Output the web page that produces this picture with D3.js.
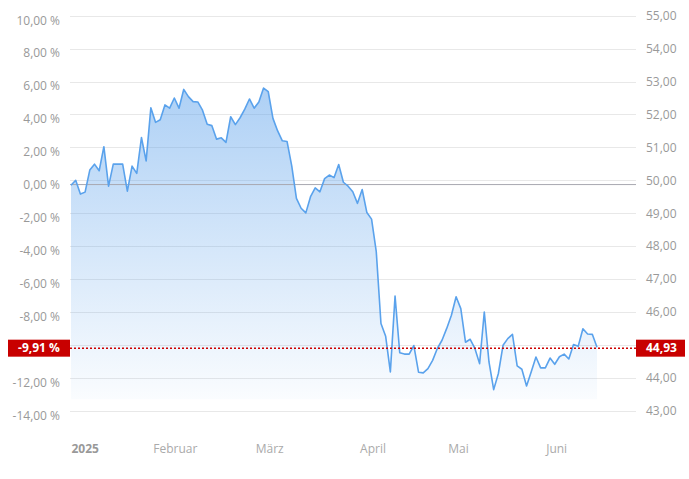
<!DOCTYPE html>
<html>
<head>
<meta charset="utf-8">
<script src="https://cdn.jsdelivr.net/npm/d3@7"></script>
<style>
  html, body { margin: 0; padding: 0; background: #fff; }
  svg { display: block; font-family: "Open Sans", "DejaVu Sans", sans-serif; }
</style>
</head>
<body>
<svg id="chart" width="689" height="479"></svg>
<script>
// ---- data ----
const prices = [
  49.85, 50.00, 49.58, 49.64, 50.31, 50.49, 50.29, 51.02, 49.82, 50.49,
  50.49, 50.49, 49.67, 50.43, 50.21, 51.30, 50.59, 52.20, 51.76, 51.84,
  52.29, 52.19, 52.50, 52.19, 52.76, 52.54, 52.39, 52.38, 52.13, 51.70,
  51.66, 51.25, 51.29, 51.15, 51.93, 51.69, 51.90, 52.16, 52.47, 52.19,
  52.38, 52.80, 52.69, 51.88, 51.50, 51.20, 51.18, 50.44, 49.45, 49.15,
  49.01, 49.50, 49.77, 49.65, 50.05, 50.16, 50.08, 50.48, 49.94, 49.82,
  49.65, 49.30, 49.72, 49.02, 48.82, 47.83, 45.65, 45.26, 44.18, 46.48,
  44.76, 44.72, 44.72, 44.98, 44.17, 44.15, 44.28, 44.53, 44.89, 45.14,
  45.50, 45.90, 46.46, 46.10, 45.08, 45.17, 44.89, 44.43, 46.00, 44.48,
  43.64, 44.13, 44.99, 45.19, 45.32, 44.36, 44.26, 43.75, 44.18, 44.63,
  44.30, 44.30, 44.60, 44.41, 44.64, 44.72, 44.57, 45.01, 44.96, 45.49,
  45.33, 45.32, 44.93
];
const basePrice = 49.87;
const fillBase = 43.35;
const priceTicks = [43, 44, 45, 46, 47, 48, 49, 50, 51, 52, 53, 54, 55];
const pctTicks = [-14, -12, -10, -8, -6, -4, -2, 0, 2, 4, 6, 8, 10];
const monthLabels = ["2025", "Februar", "März", "April", "Mai", "Juni"];
const monthPos = [0, 22.1, 42.2, 64.2, 82.4, 103.3];

// ---- layout ----
const plotLeft = 70, plotRight = 636, plotTop = 15.7, plotBottom = 410.7;
const svg = d3.select("#chart");

const locale = d3.formatLocale({decimal: ",", thousands: ".", grouping: [3], currency: ["", " €"], minus: "-"});
const f2 = locale.format(".2f");

const x = d3.scaleLinear().domain([0, prices.length - 1]).range([71, 597]);
const yP = d3.scaleLinear().domain([43, 55]).range([plotBottom, plotTop]);
const yPct = d3.scaleLinear().domain([-14, 10]).range([plotBottom, plotTop]);

const last = prices[prices.length - 1];
const pct = (last / basePrice - 1) * 100;
const ly = yP(last);

// gradient
const defs = svg.append("defs");
const grad = defs.append("linearGradient").attr("id", "areaGrad")
  .attr("gradientUnits", "userSpaceOnUse")
  .attr("x1", 0).attr("x2", 0).attr("y1", plotTop).attr("y2", yP(fillBase));
grad.append("stop").attr("offset", 0).attr("stop-color", "rgb(90,160,235)").attr("stop-opacity", 0.6);
grad.append("stop").attr("offset", 1).attr("stop-color", "rgb(90,160,235)").attr("stop-opacity", 0.03);

// gridlines
svg.append("g").selectAll("line").data(priceTicks).join("line")
  .attr("x1", plotLeft).attr("x2", plotRight)
  .attr("y1", d => Math.round(yP(d)) + 0.5).attr("y2", d => Math.round(yP(d)) + 0.5)
  .attr("stroke", "#e8e8e8").attr("stroke-width", 1);

// area
const area = d3.area().x((d, i) => x(i)).y0(yP(fillBase)).y1(d => yP(d));
svg.append("path").datum(prices).attr("d", area).attr("fill", "url(#areaGrad)");

// base line
svg.append("line")
  .attr("x1", plotLeft).attr("x2", plotRight)
  .attr("y1", yP(basePrice)).attr("y2", yP(basePrice))
  .attr("stroke", "#a8a8b0").attr("stroke-width", 1);

// line
const line = d3.line().x((d, i) => x(i)).y(d => yP(d));
svg.append("path").datum(prices).attr("d", line)
  .attr("fill", "none").attr("stroke", "#5aa2ec").attr("stroke-width", 1.6)
  .attr("stroke-linejoin", "round");

// left axis (percent) - labels hidden behind the marker are omitted
const leftAxis = d3.axisLeft(yPct)
  .tickValues(pctTicks.filter(d => Math.abs(yPct(d) + 4.5 - ly) > 12))
  .tickSize(0).tickPadding(0)
  .tickFormat(d => f2(d) + " %");
const gL = svg.append("g").attr("transform", "translate(60,4.5)").call(leftAxis);
gL.select(".domain").remove();
gL.selectAll("text").attr("fill", "#999").attr("font-size", 12).attr("font-family", "Open Sans");

// right axis (price)
const rightAxis = d3.axisRight(yP)
  .tickValues(priceTicks.filter(d => Math.abs(yP(d) - ly) > 12))
  .tickSize(0).tickPadding(0)
  .tickFormat(d => f2(d));
const gR = svg.append("g").attr("transform", "translate(646,0)").call(rightAxis);
gR.select(".domain").remove();
gR.selectAll("text").attr("fill", "#999").attr("font-size", 12).attr("font-family", "Open Sans");

// x axis
const xAxis = d3.axisBottom(x).tickValues(monthPos).tickSize(0).tickPadding(0)
  .tickFormat((d, i) => monthLabels[i]);
const gX = svg.append("g").attr("transform", "translate(0,444)").call(xAxis);
gX.select(".domain").remove();
gX.selectAll("text").attr("font-size", 12).attr("font-family", "Open Sans")
  .attr("text-anchor", (d, i) => i === 0 ? "start" : "middle")
  .attr("font-weight", (d, i) => i === 0 ? "bold" : "normal")
  .attr("fill", (d, i) => i === 0 ? "#999" : "#aaa");

// last value markers
svg.append("line")
  .attr("x1", plotLeft).attr("x2", plotRight)
  .attr("y1", ly + 1).attr("y2", ly + 1)
  .attr("stroke", "#cc0000").attr("stroke-width", 1.5).attr("stroke-dasharray", "2,2");

svg.append("rect").attr("x", 8).attr("y", ly - 7.5).attr("width", 62).attr("height", 17).attr("fill", "#c80000");
svg.append("text").attr("x", 39).attr("y", ly + 1).attr("dy", "0.35em")
  .attr("text-anchor", "middle").attr("fill", "#fff").attr("font-weight", "bold")
  .attr("font-size", 12).text(f2(pct) + " %");

svg.append("rect").attr("x", 636).attr("y", ly - 7.5).attr("width", 49).attr("height", 17).attr("fill", "#c80000");
svg.append("text").attr("x", 646).attr("y", ly + 1).attr("dy", "0.35em")
  .attr("fill", "#fff").attr("font-weight", "bold")
  .attr("font-size", 12).text(f2(last));
</script>
</body>
</html>
